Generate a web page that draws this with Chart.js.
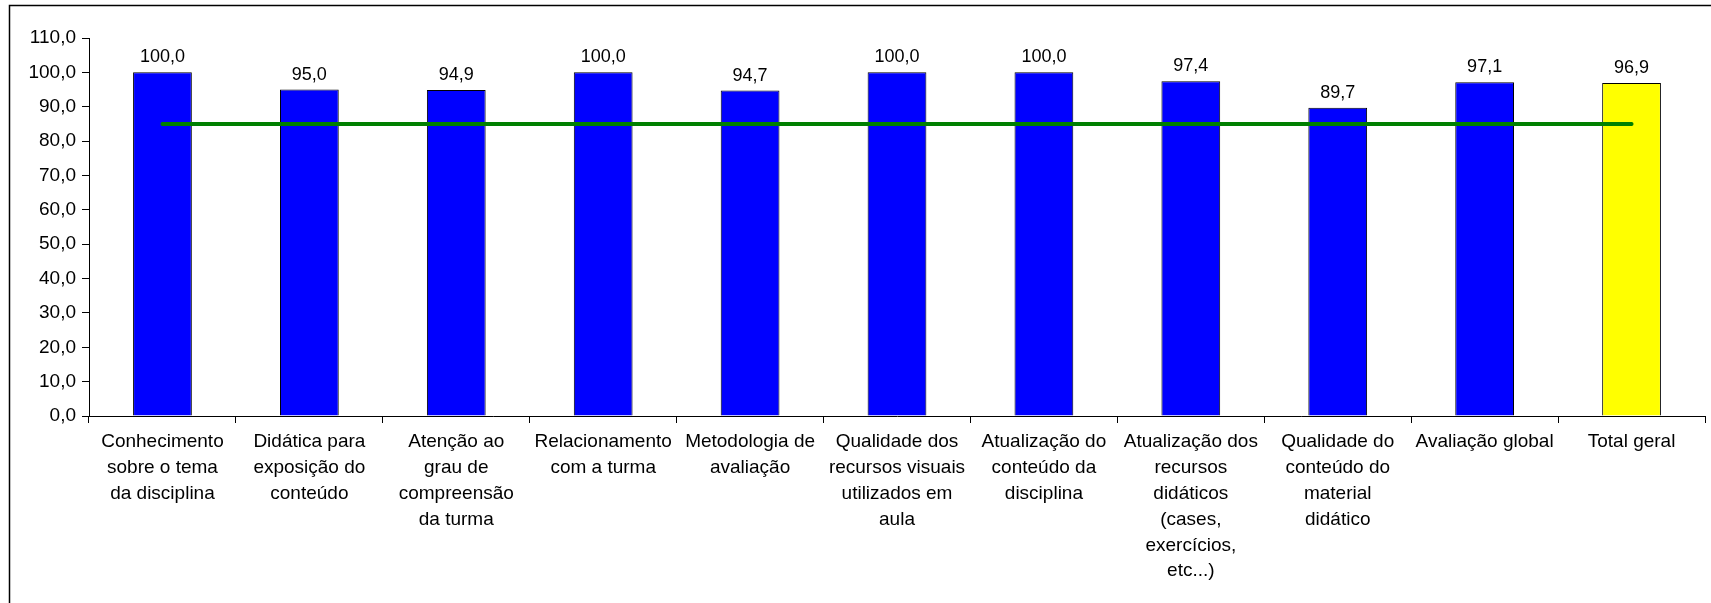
<!DOCTYPE html>
<html lang="pt-BR">
<head>
<meta charset="utf-8">
<title>Avaliação</title>
<script src="https://cdn.jsdelivr.net/npm/chart.js@4/dist/chart.umd.min.js"></script>
<style>
  html, body { margin: 0; padding: 0; background: #fff; }
  canvas { display: block; }
</style>
</head>
<body>
<canvas id="grafico" width="1711" height="603"></canvas>
<script>
// --- Dados ---
const categorias = [
    ["Conhecimento", "sobre o tema", "da disciplina"],
    ["Didática para", "exposição do", "conteúdo"],
    ["Atenção ao", "grau de", "compreensão", "da turma"],
    ["Relacionamento", "com a turma"],
    ["Metodologia de", "avaliação"],
    ["Qualidade dos", "recursos visuais", "utilizados em", "aula"],
    ["Atualização do", "conteúdo da", "disciplina"],
    ["Atualização dos", "recursos", "didáticos", "(cases,", "exercícios,", "etc...)"],
    ["Qualidade do", "conteúdo do", "material", "didático"],
    ["Avaliação global"],
    ["Total geral"]
];
const valores = [100.0, 95.0, 94.9, 100.0, 94.7, 100.0, 100.0, 97.4, 89.7, 97.1, 96.9];
const meta = [85, 85, 85, 85, 85, 85, 85, 85, 85, 85, 85];
const coresBarras = ["#0000FF", "#0000FF", "#0000FF", "#0000FF", "#0000FF", "#0000FF",
                     "#0000FF", "#0000FF", "#0000FF", "#0000FF", "#FFFF00"];
const eixoY = { min: 0, max: 110, passo: 10 };

const fonte = "'Liberation Sans', Arial, sans-serif";

// formato 0,0
function formatar(v) {
    return Number(v).toFixed(1).replace(".", ",");
}

// rótulos em cima das barras
const rotulosBarras = {
    id: "rotulosBarras",
    afterDatasetsDraw(chart) {
        const ctx = chart.ctx;
        const metaBarras = chart.getDatasetMeta(0);
        ctx.save();
        ctx.font = "18px " + fonte;
        ctx.fillStyle = "#000";
        ctx.textAlign = "center";
        ctx.textBaseline = "alphabetic";
        metaBarras.data.forEach((barra, i) => {
            ctx.fillText(formatar(valores[i]), barra.x, barra.y - 10);
        });
        ctx.restore();
    }
};

// moldura do gráfico
const moldura = {
    id: "moldura",
    afterDraw(chart) {
        const ctx = chart.ctx;
        ctx.save();
        ctx.strokeStyle = "#000";
        ctx.lineWidth = 1.5;
        ctx.strokeRect(9.5, 5.5, chart.width + 20, chart.height + 20);
        ctx.restore();
    }
};

const ctxGrafico = document.getElementById("grafico").getContext("2d");

new Chart(ctxGrafico, {
    type: "bar",
    data: {
        labels: categorias,
        datasets: [
            {
                type: "bar",
                data: valores,
                backgroundColor: coresBarras,
                borderColor: "#000",
                borderWidth: 1,
                barPercentage: 0.4,
                categoryPercentage: 1.0,
                order: 2
            },
            {
                type: "line",
                data: meta,
                borderColor: "#008000",
                borderWidth: 4,
                borderCapStyle: "round",
                pointRadius: 0,
                fill: false,
                order: 1
            }
        ]
    },
    options: {
        responsive: false,
        animation: false,
        devicePixelRatio: 1,
        layout: { padding: { top: 38, right: 6, left: 0, bottom: 0 } },
        plugins: {
            legend: { display: false },
            tooltip: { enabled: false }
        },
        scales: {
            x: {
                offset: true,
                grid: {
                    offset: true,
                    drawOnChartArea: false,
                    drawTicks: true,
                    tickLength: 7,
                    color: "#000"
                },
                border: { color: "#000", width: 1 },
                ticks: {
                    autoSkip: false,
                    maxRotation: 0,
                    minRotation: 0,
                    padding: 6,
                    color: "#000",
                    font: { family: fonte, size: 19, lineHeight: 1.36 }
                },
                afterFit(scale) { scale.height = 603 - 416; }
            },
            y: {
                min: eixoY.min,
                max: eixoY.max,
                grid: {
                    drawOnChartArea: false,
                    drawTicks: true,
                    tickLength: 7,
                    color: "#000"
                },
                border: { color: "#000", width: 1 },
                ticks: {
                    stepSize: eixoY.passo,
                    padding: 6,
                    color: "#000",
                    font: { family: fonte, size: 19 },
                    callback: (v) => formatar(v)
                },
                afterFit(scale) { scale.width = 89; }
            }
        }
    },
    plugins: [rotulosBarras, moldura]
});
</script>
</body>
</html>
